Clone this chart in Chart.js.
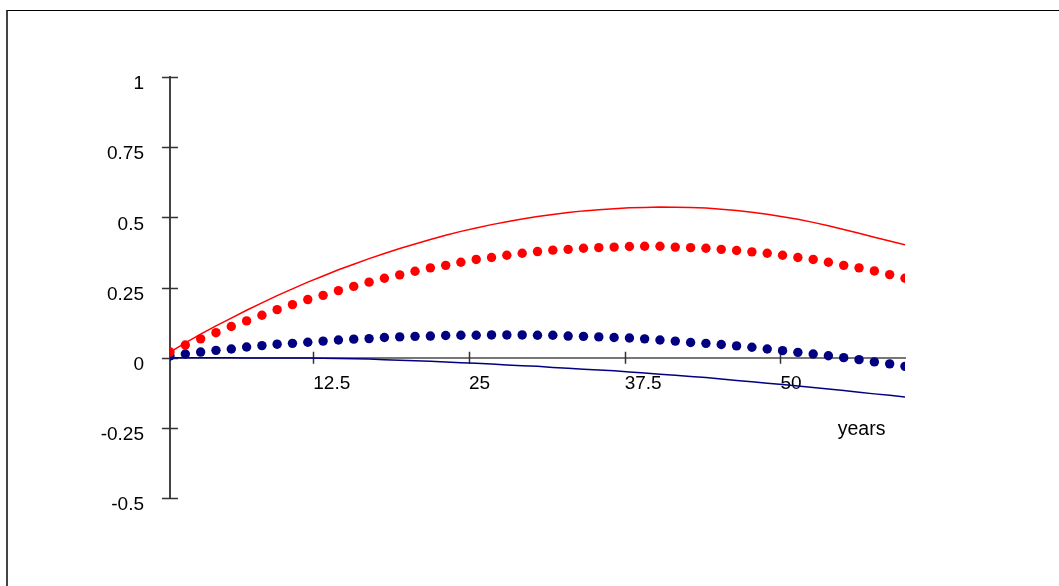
<!DOCTYPE html>
<html>
<head>
<meta charset="utf-8">
<script src="https://cdn.jsdelivr.net/npm/chart.js@4"></script>
<style>
  html, body { margin: 0; padding: 0; background: #fff; }
  #wrap { position: relative; width: 1059px; height: 586px; overflow: hidden; }
  #frame { position: absolute; left: 6px; top: 10px; right: -10px; bottom: -10px;
           border-top: 1px solid #000; border-left: 2px solid #444; }
  canvas { position: absolute; left: 0; top: 0; }
</style>
</head>
<body>
<div id="wrap">
  <div id="frame"></div>
  <canvas id="c" width="1059" height="586"></canvas>
</div>
<script>
// Time grid (years) shared by all four series
const years = [1, 2.23, 3.46, 4.69, 5.92, 7.15, 8.38, 9.6, 10.83, 12.06,
  13.29, 14.52, 15.75, 16.98, 18.21, 19.44, 20.67, 21.9, 23.13, 24.35,
  25.58, 26.81, 28.04, 29.27, 30.5, 31.73, 32.96, 34.19, 35.42, 36.65,
  37.88, 39.1, 40.33, 41.56, 42.79, 44.02, 45.25, 46.48, 47.71, 48.94,
  50.17, 51.4, 52.63, 53.85, 55.08, 56.31, 57.54, 58.77, 60];

const redSolid = [0.020, 0.053, 0.084, 0.113, 0.141, 0.169, 0.195, 0.221, 0.245, 0.269,
  0.291, 0.313, 0.333, 0.353, 0.371, 0.389, 0.405, 0.421, 0.436, 0.450,
  0.462, 0.474, 0.484, 0.494, 0.503, 0.510, 0.517, 0.523, 0.527, 0.531,
  0.534, 0.535, 0.537, 0.536, 0.535, 0.533, 0.529, 0.524, 0.518, 0.511,
  0.502, 0.493, 0.482, 0.470, 0.457, 0.443, 0.429, 0.416, 0.402];

const redDotted = [0.020, 0.045, 0.067, 0.089, 0.111, 0.131, 0.151, 0.171, 0.189, 0.207,
  0.222, 0.239, 0.254, 0.269, 0.283, 0.295, 0.308, 0.320, 0.329, 0.340,
  0.350, 0.357, 0.365, 0.372, 0.378, 0.383, 0.386, 0.390, 0.392, 0.394,
  0.396, 0.397, 0.397, 0.394, 0.392, 0.390, 0.386, 0.382, 0.377, 0.372,
  0.365, 0.357, 0.350, 0.340, 0.329, 0.320, 0.309, 0.296, 0.283];

const blueDotted = [0.006, 0.013, 0.020, 0.026, 0.031, 0.038, 0.043, 0.048, 0.051, 0.055,
  0.059, 0.063, 0.066, 0.068, 0.072, 0.074, 0.076, 0.077, 0.079, 0.080,
  0.080, 0.081, 0.081, 0.081, 0.080, 0.080, 0.077, 0.076, 0.074, 0.072,
  0.070, 0.067, 0.063, 0.059, 0.054, 0.051, 0.047, 0.042, 0.037, 0.031,
  0.025, 0.019, 0.013, 0.007, 0.000, -0.007, -0.015, -0.022, -0.031];

const blueSolid = [0, 0, 0, 0, 0, -0.001, -0.001, -0.001, -0.001, -0.001,
  -0.002, -0.003, -0.004, -0.005, -0.007, -0.009, -0.011, -0.013, -0.015, -0.018,
  -0.020, -0.023, -0.026, -0.029, -0.031, -0.035, -0.038, -0.041, -0.044, -0.047,
  -0.051, -0.055, -0.059, -0.063, -0.067, -0.071, -0.076, -0.081, -0.086, -0.091,
  -0.096, -0.101, -0.106, -0.112, -0.117, -0.123, -0.129, -0.134, -0.140];

const xTicks = [12.5, 25, 37.5, 50];
const yTicks = [-0.5, -0.25, 0, 0.25, 0.5, 0.75, 1];
const xAxisTitle = 'years';

const FONT = '"Liberation Sans", Arial, Helvetica, sans-serif';
const RED = '#ff0000';
const NAVY = '#000080';

const pts = arr => arr.map((v, i) => ({ x: years[i], y: v }));

// Cross-shaped tick marks on both axes, plus the x-axis caption
const axisMarks = {
  id: 'axisMarks',
  beforeDatasetsDraw(chart) {
    const { ctx, scales: { x, y } } = chart;
    const y0 = y.getPixelForValue(0);
    const x0 = x.getPixelForValue(x.min);
    ctx.save();
    ctx.strokeStyle = '#333';
    ctx.lineWidth = 1.5;
    ctx.beginPath();
    xTicks.forEach(v => {
      const px = Math.round(x.getPixelForValue(v)) + 0.5;
      ctx.moveTo(px, y0 - 6); ctx.lineTo(px, y0 + 6);
    });
    yTicks.forEach(v => {
      const py = Math.round(y.getPixelForValue(v)) + 0.5;
      ctx.moveTo(x0 - 8, py); ctx.lineTo(x0 + 8, py);
    });
    ctx.stroke();
    ctx.restore();
  },
  afterDraw(chart) {
    const { ctx, scales: { x, y } } = chart;
    ctx.save();
    ctx.font = '19.5px ' + FONT;
    ctx.fillStyle = '#000';
    ctx.textAlign = 'left';
    ctx.textBaseline = 'middle';
    ctx.fillText(xAxisTitle, x.getPixelForValue(54.6), y.getPixelForValue(-0.255));
    ctx.restore();
  }
};

new Chart(document.getElementById('c'), {
  type: 'scatter',
  data: {
    datasets: [
      { data: pts(redSolid), showLine: true, borderColor: RED, borderWidth: 1.5,
        pointRadius: 0, tension: 0, fill: false },
      { data: pts(blueSolid), showLine: true, borderColor: NAVY, borderWidth: 1.5,
        pointRadius: 0, tension: 0, fill: false },
      { data: pts(redDotted), showLine: false, backgroundColor: RED, borderWidth: 0,
        pointRadius: 4.7 },
      { data: pts(blueDotted), showLine: false, backgroundColor: NAVY, borderWidth: 0,
        pointRadius: 4.7 }
    ]
  },
  options: {
    responsive: false,
    animation: false,
    layout: { padding: { left: 0, right: 154, top: 77, bottom: 88 } },
    plugins: { legend: { display: false }, tooltip: { enabled: false } },
    scales: {
      x: {
        type: 'linear', min: 1, max: 60, position: { y: 0 },
        afterBuildTicks(s) { s.ticks = xTicks.map(v => ({ value: v })); },
        grid: { display: false, drawTicks: false },
        border: { display: true, color: '#777', width: 2 },
        ticks: { align: 'start', autoSkip: false, maxRotation: 0, padding: 15,
                 color: '#000', font: { family: FONT, size: 19 },
                 callback: v => String(v) }
      },
      y: {
        type: 'linear', min: -0.5, max: 1, position: 'left',
        afterFit(s) { s.width = 170; },
        afterBuildTicks(s) { s.ticks = yTicks.map(v => ({ value: v })); },
        grid: { display: false, drawTicks: false },
        border: { display: true, color: '#444', width: 2 },
        ticks: { padding: 26, labelOffset: 7, color: '#000',
                 font: { family: FONT, size: 19 },
                 callback: v => String(v) }
      }
    }
  },
  plugins: [axisMarks]
});
</script>
</body>
</html>
